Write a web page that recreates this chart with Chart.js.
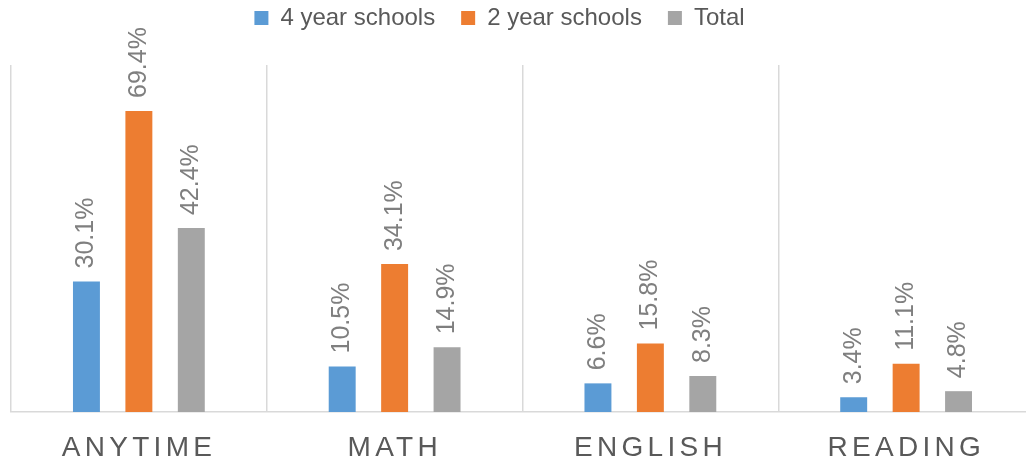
<!DOCTYPE html>
<html>
<head>
<meta charset="utf-8">
<script src="https://cdn.jsdelivr.net/npm/chart.js@4"></script>
<style>
  html, body { margin: 0; padding: 0; overflow: hidden; background: #fff; }
  /* the plot runs a bit past the right edge of the window, like the reference */
  #wrap { width: 1045px; height: 468px; }
</style>
</head>
<body>
<div id="wrap"><canvas id="cvs_escolas"></canvas></div>
<script>
// categorias e séries
const categorias = ["ANYTIME", "MATH", "ENGLISH", "READING"];
const quatroAnos = [30.1, 10.5, 6.6, 3.4];
const doisAnos = [69.4, 34.1, 15.8, 11.1];
const total = [42.4, 14.9, 8.3, 4.8];

const corTexto = "#595959";
const corRotulo = "#7f7f7f";
const corGrade = "#d9d9d9";

// rótulos de valor girados acima de cada barra
const rotulosPlugin = {
    id: "rotulos",
    afterDatasetsDraw(chart) {
        const ctx = chart.ctx;
        ctx.save();
        ctx.font = "25px 'Liberation Sans', Arial, sans-serif";
        ctx.fillStyle = corRotulo;
        ctx.textAlign = "left";
        ctx.textBaseline = "middle";
        chart.data.datasets.forEach((ds, i) => {
            const meta = chart.getDatasetMeta(i);
            meta.data.forEach((bar, j) => {
                ctx.save();
                ctx.translate(bar.x, bar.y - 13);
                ctx.rotate(-Math.PI / 2);
                ctx.fillText(ds.data[j].toFixed(1) + "%", 0, 0);
                ctx.restore();
            });
        });
        ctx.restore();
    }
};

// nomes das categorias com espaçamento entre letras
const categoriasPlugin = {
    id: "categorias",
    afterLayout(chart) {
        // legenda um pouco à esquerda e mais acima
        const lg = chart.legend;
        lg.left -= 23; lg.right -= 23;
        lg.top -= 25; lg.bottom -= 25;
    },
    afterDraw(chart) {
        const ctx = chart.ctx;
        const x = chart.scales.x;
        const esp = 4.3;
        ctx.save();
        ctx.font = "28px 'Liberation Sans', Arial, sans-serif";
        ctx.fillStyle = corTexto;
        ctx.textBaseline = "middle";
        ctx.textAlign = "left";
        ctx.letterSpacing = esp + "px";
        categorias.forEach((c, i) => {
            const w = ctx.measureText(c).width - esp;
            ctx.fillText(c, x.getPixelForValue(i) - w / 2 - 2, 448);
        });
        ctx.restore();
    }
};

new Chart(document.getElementById("cvs_escolas"), {
    type: "bar",
    data: {
        labels: categorias,
        datasets: [
            { label: "4 year schools", data: quatroAnos, backgroundColor: "#5b9bd5" },
            { label: "2 year schools", data: doisAnos, backgroundColor: "#ed7d31" },
            { label: "Total", data: total, backgroundColor: "#a5a5a5" }
        ]
    },
    options: {
        responsive: true,
        maintainAspectRatio: false,
        animation: false,
        categoryPercentage: 0.615,
        barPercentage: 0.514,
        layout: { padding: { left: 11, right: 11, top: 5, bottom: 56 } },
        plugins: {
            legend: {
                position: "top",
                labels: {
                    boxWidth: 14,
                    boxHeight: 14,
                    padding: 26,
                    color: corTexto,
                    font: { size: 24, family: "'Liberation Sans', Arial, sans-serif" }
                }
            },
            tooltip: { enabled: false }
        },
        scales: {
            x: {
                offset: true,
                grid: { display: true, offset: true, color: corGrade, lineWidth: 1.5, drawTicks: false },
                border: { display: true, color: corGrade, width: 1.5 },
                ticks: { display: false }
            },
            y: {
                display: false,
                min: 0,
                max: 80
            }
        }
    },
    plugins: [rotulosPlugin, categoriasPlugin]
});
</script>
</body>
</html>
